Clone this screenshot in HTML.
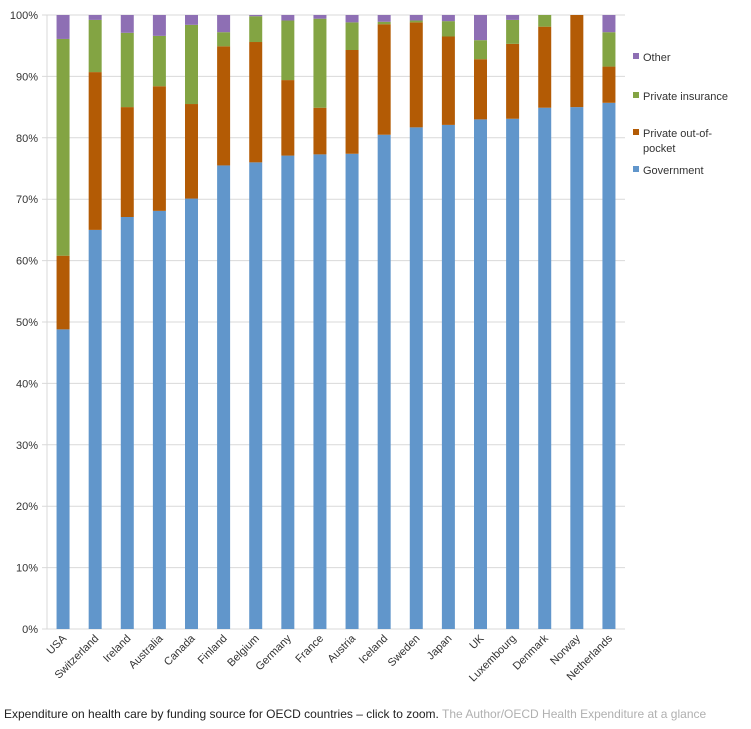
<!DOCTYPE html>
<html><head><meta charset="utf-8"><style>
body{margin:0;background:#fff;font-family:"Liberation Sans",sans-serif;}
svg text{font-family:"Liberation Sans",sans-serif;}
</style></head><body>
<svg width="751" height="724">
<g id="grid"></g><g id="bars"></g><g id="labels"></g>
<g font-size="11" fill="#333">
<rect x="633" y="53" width="6" height="6" fill="#8e6fb4"/>
<text x="643" y="61">Other</text>
<rect x="633" y="92" width="6" height="6" fill="#83a443"/>
<text x="643" y="100">Private insurance</text>
<rect x="633" y="129" width="6" height="6" fill="#b35b05"/>
<text x="643" y="137">Private out-of-</text>
<text x="643" y="152">pocket</text>
<rect x="633" y="166" width="6" height="6" fill="#6196cb"/>
<text x="643" y="174">Government</text>
</g>
<text x="4" y="718" font-size="12" fill="#222">Expenditure on health care by funding source for OECD countries – click to zoom. <tspan fill="#b0b0b0">The Author/OECD Health Expenditure at a glance</tspan></text>
</svg>
<script>
const categories=["USA","Switzerland","Ireland","Australia","Canada","Finland","Belgium","Germany","France","Austria","Iceland","Sweden","Japan","UK","Luxembourg","Denmark","Norway","Netherlands"];
const government=[48.8,65,67.1,68.1,70.1,75.5,76,77.1,77.3,77.4,80.5,81.7,82.1,83,83.1,84.9,85,85.7];
const outOfPocket=[12,25.7,17.9,20.3,15.4,19.4,19.6,12.3,7.6,16.9,18,17.1,14.4,9.8,12.2,13.2,15,5.9];
const insurance=[35.3,8.5,12.1,8.2,12.9,2.3,4.2,9.7,14.5,4.5,0.4,0.3,2.5,3.1,3.9,1.9,0,5.6];
const other=[3.9,0.8,2.9,3.4,1.6,2.8,0.2,0.9,0.6,1.2,1.1,0.9,1.0,4.1,0.8,0,0,2.8];
const yTicks=[0,10,20,30,40,50,60,70,80,90,100];
const NS="http://www.w3.org/2000/svg";
const x0=47,x1=625,y0=629,y1=15;
const y=v=>y0-(v/100)*(y0-y1);
const bw=(x1-x0)/categories.length;
const cx=i=>x0+bw*(i+0.5);
const grid=document.getElementById('grid'),bars=document.getElementById('bars'),labels=document.getElementById('labels');
function mk(tag,a,p){const e=document.createElementNS(NS,tag);for(const k in a)e.setAttribute(k,a[k]);p.appendChild(e);return e;}
yTicks.forEach(t=>{
 const l=mk('line',{x1:x0-5,x2:x1,y1:y(t),y2:y(t),stroke:'#d9d9d9','stroke-width':1},grid);
 
 
 const tx=mk('text',{x:38,y:y(t)+4,'text-anchor':'end','font-size':11,fill:'#333'},labels);
 tx.textContent=t+'%';
 
 
});
const ax=mk('line',{x1:x0,x2:x0,y1:y1,y2:y0,stroke:'#d9d9d9'},grid);


const series=[[government,'#6196cb','government'],[outOfPocket,'#b35b05','out-of-pocket'],[insurance,'#83a443','insurance'],[other,'#8e6fb4','other']];
categories.forEach((c,i)=>{
 let base=0;
 series.forEach(([arr,col,nm])=>{
  const v=arr[i];
  const r=mk('rect',{x:cx(i)-6.5,width:13,y:y(base+v),height:Math.max(0,y(base)-y(base+v)),fill:col},bars);
  
  
  base+=v;
 });
 const t=mk('text',{x:0,y:0,'text-anchor':'end','font-size':11,fill:'#333',transform:`translate(${cx(i)+4},${y0+10}) rotate(-45)`},labels);
 t.textContent=c;
 
 
});
</script>
</body></html>
